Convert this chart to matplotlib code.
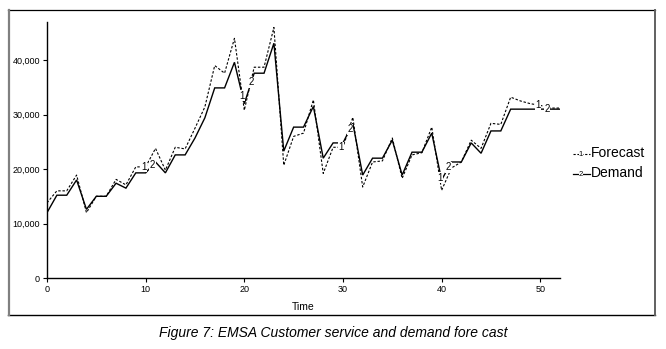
import numpy as np
import matplotlib
matplotlib.use("Agg")
import matplotlib.pyplot as plt
from matplotlib.lines import Line2D

time = list(range(0, 53))
demand = [12000, 15200, 15200, 18000, 12600, 15000, 15000, 17400, 16500, 19300,
          19300, 21300, 19300, 22600, 22600, 25700, 29400, 34900, 34900, 39600,
          32000, 37600, 37600, 43100, 23300, 27700, 27700, 31500, 22000, 24800,
          24800, 28400, 18900, 22000, 22000, 25300, 18900, 23100, 23100, 26600,
          18000, 21300, 21300, 24800, 22900, 27000, 27000, 31000, 31000, 31000,
          31000, 31000, 31000]
forecast = [13800, 16000, 16000, 18900, 12000, 15000, 15000, 18100, 17100, 20400,
            20400, 23800, 19800, 24000, 23700, 27500, 31400, 39000, 37600, 44000,
            30800, 38700, 38700, 46000, 20700, 26000, 26600, 32700, 19200, 24000,
            24000, 29500, 16700, 21300, 21500, 25700, 18300, 22600, 23000, 27700,
            16100, 20200, 21300, 25300, 23800, 28400, 28200, 33200, 32500, 32000,
            31700, 31200, 31200]
series_names = ["Forecast", "Demand"]
x_ticks = [0, 10, 20, 30, 40, 50]
y_ticks = [0, 10000, 20000, 30000, 40000]
y_tick_labels = ["0", "10,000", "20,000", "30,000", "40,000"]
caption = "Figure 7: EMSA Customer service and demand fore cast"

plt.rcParams['font.family'] = ['Liberation Sans', 'DejaVu Sans']

fig = plt.figure(figsize=(6.66, 3.49), dpi=100)
W, H = 666, 349

def fx(px):
    return px / W

def fy(py):
    return 1 - py / H

ax = fig.add_axes([fx(47), fy(278), fx(560) - fx(47), fy(22) - fy(278)])
ax.plot(time, demand, color='black', lw=1.0, solid_joinstyle='miter')
ax.plot(time, forecast, color='black', lw=0.8, dashes=(2.2, 1.6))

# series number labels
for t in [10, 20, 30, 40, 50]:
    ax.text(t - 0.2, np.interp(t - 0.2, time, forecast), "1", fontsize=7,
            ha='center', va='center', color='black',
            bbox=dict(facecolor='white', edgecolor='none', pad=0.3))
    ax.text(t + 0.7, np.interp(t + 0.7, time, demand), "2", fontsize=7,
            ha='center', va='center', color='black',
            bbox=dict(facecolor='white', edgecolor='none', pad=0.3))

ax.set_xlim(0, 52)
ax.set_ylim(0, 47000)
ax.set_xticks(x_ticks)
ax.set_xticklabels([str(v) for v in x_ticks])
ax.set_yticks(y_ticks)
ax.set_yticklabels(y_tick_labels)
ax.spines['top'].set_visible(False)
ax.spines['right'].set_visible(False)
for s in ['left', 'bottom']:
    ax.spines[s].set_linewidth(1.0)
ax.tick_params(axis='both', direction='out', length=3, width=0.8, labelsize=6.5, pad=2)
ax.set_xlabel("Time", fontsize=7.5, labelpad=6)

# legend drawn manually
leg_items = [(series_names[0], 153, "1", dict(color='black', lw=0.8, dashes=(2, 1.5))),
             (series_names[1], 173, "2", dict(color='black', lw=0.9))]
for name, py, num, style in leg_items:
    fig.add_artist(Line2D([fx(573), fx(590)], [fy(py + 1), fy(py + 1)],
                          transform=fig.transFigure, **style))
    fig.text(fx(581), fy(py + 2), num, fontsize=5.5, ha='center', va='center',
             bbox=dict(facecolor='white', edgecolor='none', pad=0.2))
    fig.text(fx(591), fy(py), name, fontsize=10, ha='left', va='center')

# frame
fig.add_artist(Line2D([fx(8), fx(655)], [fy(10), fy(10)], transform=fig.transFigure,
                      color='black', lw=0.9))
fig.add_artist(Line2D([fx(8), fx(655)], [fy(315), fy(315)], transform=fig.transFigure,
                      color='black', lw=1.0))
fig.add_artist(Line2D([fx(8.5), fx(8.5)], [fy(10), fy(315)], transform=fig.transFigure,
                      color='#808080', lw=1.6))
fig.add_artist(Line2D([fx(654.5), fx(654.5)], [fy(10), fy(315)], transform=fig.transFigure,
                      color='#606060', lw=1.4))

fig.text(0.5, fy(333), caption, fontsize=10, ha='center', va='center', style='italic',
         family=['Liberation Sans Narrow', 'Liberation Sans', 'DejaVu Sans'])

fig.savefig("out.png", dpi=100)
